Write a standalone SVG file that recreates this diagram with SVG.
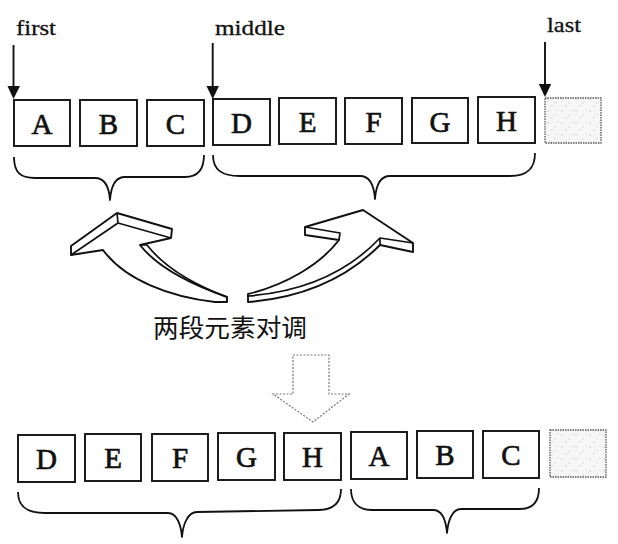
<svg xmlns="http://www.w3.org/2000/svg" width="618" height="544" viewBox="0 0 618 544">
<style>
.box{fill:#fff;stroke:#111;stroke-width:1.9}
.lt{font-family:"Liberation Serif","Times New Roman",serif;font-size:29px;fill:#111;stroke:#111;stroke-width:0.7;text-anchor:middle}
.lbl{font-family:"Liberation Serif","Times New Roman",serif;font-size:21px;fill:#111;stroke:#111;stroke-width:0.3}
.cn{font-family:"Noto Sans CJK SC","Noto Sans",sans-serif;font-size:25px;fill:#111;text-anchor:middle}
.empty{fill:url(#speck);stroke:#555;stroke-width:1.3;stroke-dasharray:1.5 1}
.brace{fill:none;stroke:#111;stroke-width:1.8;stroke-linejoin:round}
.ptr{stroke:#111;stroke-width:1.9;fill:none}
.curv{fill:#fff;stroke:#111;stroke-width:1.9;stroke-linejoin:round}
.edge{fill:none;stroke:#111;stroke-width:1.7;stroke-linejoin:round}
.down{fill:#fff;stroke:#777;stroke-width:1.2;stroke-dasharray:2 1.5}
</style>
<defs>
<pattern id="speck" width="14" height="12" patternUnits="userSpaceOnUse">
<rect width="14" height="12" fill="#f6f6f6"/>
<circle cx="2" cy="3" r="0.6" fill="#999"/>
<circle cx="9" cy="7" r="0.5" fill="#aaa"/>
<circle cx="6" cy="10" r="0.5" fill="#999"/>
<circle cx="12" cy="2" r="0.5" fill="#bbb"/>
</pattern>
</defs>

<g id="pointers">
<g id="ptr-first">
<text class="lbl" x="16" y="35" textLength="40" lengthAdjust="spacingAndGlyphs">first</text>
<line class="ptr" x1="13.5" y1="45" x2="13.5" y2="86"/>
<path d="M7.5,86 L20,86 L13.5,99 Z" fill="#111"/>
</g>
<g id="ptr-middle">
<text class="lbl" x="215" y="35" textLength="70" lengthAdjust="spacingAndGlyphs">middle</text>
<line class="ptr" x1="212.7" y1="43" x2="212.7" y2="86"/>
<path d="M206.5,86 L219,86 L212.7,99 Z" fill="#111"/>
</g>
<g id="ptr-last">
<text class="lbl" x="547" y="32" textLength="34" lengthAdjust="spacingAndGlyphs">last</text>
<line class="ptr" x1="545" y1="42" x2="545" y2="84"/>
<path d="M538.8,84 L551.2,84 L545,97 Z" fill="#111"/>
</g>
</g>

<g id="top-row">
<g id="t-A"><rect class="box" x="14" y="100" width="56" height="46"/><text class="lt" x="42" y="134">A</text></g>
<g id="t-B"><rect class="box" x="80" y="100" width="57" height="46"/><text class="lt" x="108.5" y="134">B</text></g>
<g id="t-C"><rect class="box" x="147" y="100" width="57" height="46"/><text class="lt" x="175.5" y="134">C</text></g>
<g id="t-D"><rect class="box" x="213" y="99" width="57" height="46"/><text class="lt" x="241.5" y="133">D</text></g>
<g id="t-E"><rect class="box" x="279" y="98" width="57" height="46"/><text class="lt" x="307.5" y="132">E</text></g>
<g id="t-F"><rect class="box" x="345" y="98" width="57" height="46"/><text class="lt" x="373.5" y="132">F</text></g>
<g id="t-G"><rect class="box" x="412" y="98" width="56" height="45"/><text class="lt" x="440" y="132">G</text></g>
<g id="t-H"><rect class="box" x="478" y="97" width="57" height="46"/><text class="lt" x="506.5" y="131">H</text></g>
<g id="t-end"><rect class="empty" x="545" y="98" width="56" height="45"/></g>
</g>

<g id="connectors">
<path class="brace" d="M14,157 C14,172 20,178 35,178 L95,178 C104,178 109,186 110,200 C111,186 116,177 125,177 L185,177 C198,177 204,170 204,155"/>
<path class="brace" d="M213,155 C213,170 222,176 240,176 L360,176 C369,176 374,185 375,199 C376,185 381,176 390,176 L510,176 C528,176 535,168 535,153"/>
<path class="brace" d="M18,492 C18,506 26,513 45,513 L168,513 C177,513 181,525 182,537 C183,524 188,512 197,512 L318,510 C334,510 341,502 341,489"/>
<path class="brace" d="M351,489 C351,502 358,510 372,510 L433,510 C442,510 446,521 447,533 C448,521 452,509 461,509 L520,509 C533,509 539,501 539,488"/>
</g>

<g id="swap-arrows">
<g id="arrow-left">
<path class="curv" d="M117,213 L71,246 L71,255 L103,250 C125,280 170,297 215,302 L227,302 L227,297 C190,284 158,268 140,245 L171,238 L172,229 Z"/>
<path class="edge" d="M117,213 L118,223 L71,255 M118,223 L171,238"/>
<path class="edge" d="M140,245 L147,245 C165,268 195,285 227,297"/>
</g>
<g id="arrow-right">
<path class="curv" d="M363,210 L305,227 L305,235 L339,240 C320,265 285,285 248,294 L248,302 C300,298 345,280 380,245 L413,252 L413,243 Z"/>
<path class="edge" d="M305,227 L340,233 L339,240"/>
<path class="edge" d="M380,245 L380,238 L413,243 M380,238 C345,275 300,292 248,296"/>
</g>
<text id="swap-label" class="cn" x="230" y="337" textLength="154" lengthAdjust="spacingAndGlyphs">两段元素对调</text>
</g>

<g id="down-arrow">
<path class="down" d="M293,355 L329,355 L329,394 L349,394 L313,422 L273,394 L293,394 Z"/>
</g>

<g id="bottom-row">
<g id="b-D"><rect class="box" x="18" y="435" width="57" height="47"/><text class="lt" x="46.5" y="469">D</text></g>
<g id="b-E"><rect class="box" x="85" y="434" width="56" height="47"/><text class="lt" x="113" y="468">E</text></g>
<g id="b-F"><rect class="box" x="152" y="434" width="56" height="47"/><text class="lt" x="180" y="468">F</text></g>
<g id="b-G"><rect class="box" x="218" y="433" width="57" height="47"/><text class="lt" x="246.5" y="467">G</text></g>
<g id="b-H"><rect class="box" x="284" y="433" width="57" height="47"/><text class="lt" x="312.5" y="467">H</text></g>
<g id="b-A"><rect class="box" x="351" y="432" width="56" height="47"/><text class="lt" x="379" y="466">A</text></g>
<g id="b-B"><rect class="box" x="417" y="431" width="56" height="47"/><text class="lt" x="445" y="465">B</text></g>
<g id="b-C"><rect class="box" x="483" y="431" width="56" height="47"/><text class="lt" x="511" y="465">C</text></g>
<g id="b-end"><rect class="empty" x="550" y="430" width="56" height="47"/></g>
</g>
</svg>
